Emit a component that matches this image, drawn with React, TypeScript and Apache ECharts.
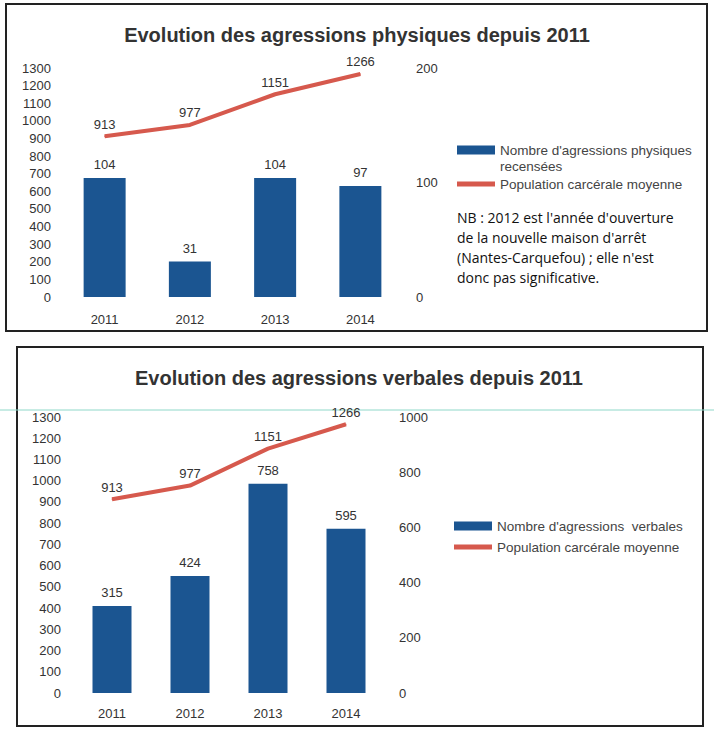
import React, { useEffect, useRef } from "react";
import * as echarts from "echarts";

const years = ["2011", "2012", "2013", "2014"];
const population = [913, 977, 1151, 1266];
const physicalAggressions = [104, 31, 104, 97];
const verbalAggressions = [315, 424, 758, 595];

const titlePhys = "Evolution des agressions physiques depuis 2011";
const titleVerb = "Evolution des agressions verbales depuis 2011";
const namePhys = "Nombre d'agressions physiques\nrecensées";
const nameVerb = "Nombre d'agressions  verbales";
const namePop = "Population carcérale moyenne";
const nbLines = [
  "NB : 2012 est l'année d'ouverture",
  "de la nouvelle maison d'arrêt",
  "(Nantes-Carquefou) ; elle n'est",
  "donc pas significative.",
];

const BAR = "#1b5591";
const LINE = "#d6594d";
const FONT = "Liberation Sans, Arial, sans-serif";
const TXT = "#333";

export default function App() {
  const ref = useRef<HTMLDivElement>(null);
  useEffect(() => {
    if (!ref.current) return;
    const chart = echarts.init(ref.current, null, { renderer: "svg" });
    const plain = (v: number) => String(v);
    const axisLabel = { color: TXT, fontSize: 13, fontFamily: FONT, formatter: plain };
    const yBase = {
      type: "value",
      splitLine: { show: false },
      axisLine: { show: false },
      axisTick: { show: false },
    };
    const xBase = {
      type: "category",
      data: years,
      axisLine: { show: false },
      axisTick: { show: false },
    };
    const lineLabel = { show: true, position: "top", color: TXT, fontSize: 13, fontFamily: FONT };
    const legendBase = {
      orient: "vertical",
      padding: 0,
      itemWidth: 38,
      selectedMode: false,
      textStyle: { color: "#444", fontSize: 13.5, fontFamily: FONT },
    };
    chart.setOption({
      animation: false,
      backgroundColor: "#fff",
      title: [
        {
          text: titlePhys,
          left: "center",
          top: 25,
          padding: 0,
          textStyle: { fontSize: 20, fontWeight: "bold", color: TXT, fontFamily: FONT },
        },
        {
          text: titleVerb,
          left: 135,
          top: 368,
          padding: 0,
          textStyle: { fontSize: 20, fontWeight: "bold", color: TXT, fontFamily: FONT },
        },
      ],
      legend: [
        {
          ...legendBase,
          left: 457,
          top: 126,
          itemHeight: 9,
          icon: "rect",
          data: [namePhys],
          formatter: (n: string) => "\n" + n,
          textStyle: { ...legendBase.textStyle, lineHeight: 16 },
        },
        {
          ...legendBase,
          left: 457,
          top: 177,
          itemHeight: 5,
          icon: "rect",
          data: [namePop],
        },
        {
          ...legendBase,
          left: 454,
          top: 519,
          itemHeight: 9,
          icon: "rect",
          data: [nameVerb],
        },
        {
          ...legendBase,
          left: 454,
          top: 540,
          itemHeight: 5,
          icon: "rect",
          data: [namePop],
        },
      ],
      grid: [
        { left: 62, right: 311, top: 68, height: 229 },
        { left: 73, right: 329, top: 417, height: 276 },
      ],
      xAxis: [
        { ...xBase, gridIndex: 0, axisLabel: { ...axisLabel, margin: 16 } },
        { ...xBase, gridIndex: 1, axisLabel: { ...axisLabel, margin: 14 } },
      ],
      yAxis: [
        { ...yBase, gridIndex: 0, position: "left", min: 0, max: 1300, interval: 100, axisLabel: { ...axisLabel, margin: 11 } },
        { ...yBase, gridIndex: 0, position: "right", min: 0, max: 200, interval: 100, axisLabel: { ...axisLabel, margin: 13 } },
        { ...yBase, gridIndex: 1, position: "left", min: 0, max: 1300, interval: 100, axisLabel: { ...axisLabel, margin: 12 } },
        { ...yBase, gridIndex: 1, position: "right", min: 0, max: 1000, interval: 200, axisLabel: { ...axisLabel, margin: 14 } },
      ],
      series: [
        {
          name: namePhys,
          type: "bar",
          xAxisIndex: 0,
          yAxisIndex: 1,
          data: physicalAggressions,
          barWidth: 42,
          itemStyle: { color: BAR },
          label: { show: true, position: "top", color: TXT, fontSize: 13, fontFamily: FONT, distance: 7 },
        },
        {
          name: namePop,
          type: "line",
          xAxisIndex: 0,
          yAxisIndex: 0,
          data: population,
          symbol: "circle",
          symbolSize: 1,
          lineStyle: { color: LINE, width: 4 },
          itemStyle: { color: LINE },
          label: lineLabel,
        },
        {
          name: nameVerb,
          type: "bar",
          xAxisIndex: 1,
          yAxisIndex: 3,
          data: verbalAggressions,
          barWidth: 39,
          itemStyle: { color: BAR },
          label: { show: true, position: "top", color: TXT, fontSize: 13, fontFamily: FONT, distance: 7 },
        },
        {
          name: namePop,
          type: "line",
          xAxisIndex: 1,
          yAxisIndex: 2,
          data: population,
          symbol: "circle",
          symbolSize: 1,
          lineStyle: { color: LINE, width: 4 },
          itemStyle: { color: LINE },
          label: lineLabel,
        },
      ],
      graphic: [
        {
          type: "rect",
          shape: { x: 6, y: 4, width: 701, height: 327 },
          style: { fill: "none", stroke: "#222", lineWidth: 2 },
          silent: true,
        },
        {
          type: "rect",
          shape: { x: 17, y: 347, width: 686, height: 379 },
          style: { fill: "none", stroke: "#222", lineWidth: 2 },
          silent: true,
        },
        {
          type: "line",
          shape: { x1: 0, y1: 410, x2: 714, y2: 410 },
          style: { stroke: "#8fd8c9", lineWidth: 1 },
          silent: true,
        },
        {
          type: "text",
          left: 457,
          top: 207,
          style: {
            text: nbLines.join("\n"),
            fill: "#111",
            fontSize: 14,
            lineHeight: 20,
            fontFamily: "Open Sans, Noto Sans, sans-serif",
          },
          silent: true,
        },
      ],
    });
    return () => chart.dispose();
  }, []);
  return (
    <div
      ref={ref}
      style={{ position: "absolute", left: 0, top: 0, width: 714, height: 735 }}
    />
  );
}
